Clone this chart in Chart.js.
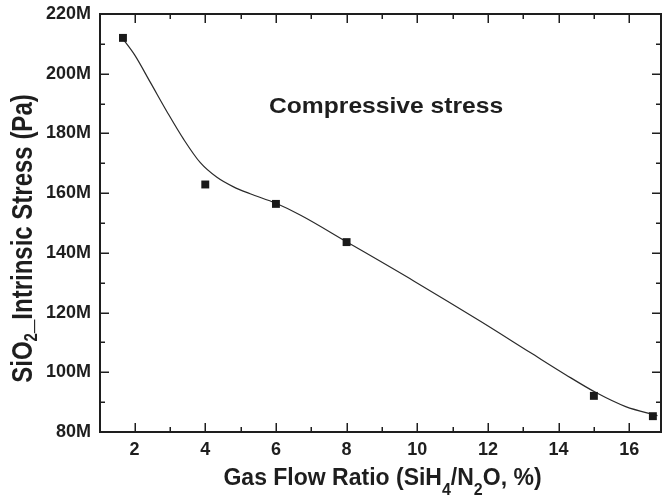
<!DOCTYPE html>
<html>
<head>
<meta charset="utf-8">
<title>SiO2 intrinsic stress vs gas flow ratio</title>
<script src="https://cdn.jsdelivr.net/npm/chart.js@4/dist/chart.umd.min.js"></script>
<style>
  html, body { margin: 0; padding: 0; background: #fff; }
  #wrap { width: 662px; height: 497px; }
</style>
</head>
<body>
<div id="wrap"><canvas id="stressChart" width="662" height="497"></canvas></div>
<script>
// Measured points: gas flow ratio (%) and intrinsic stress (MPa)
const flowRatio = [1.67, 4.0, 6.0, 8.0, 15.0, 16.67]
const stress = [212.0, 162.9, 156.4, 143.6, 92.1, 85.3]

// Smoothed trend curve, sampled along the fitted line
const fitRatio = [1.68, 2.0, 2.45, 2.92, 3.39, 3.86, 4.33, 4.8, 5.27, 6.0, 6.7, 8.0, 9.9, 11.8, 13.2, 14.2, 15.06, 15.9, 16.8]
const fitStress = [211.5, 206.3, 197.0, 187.2, 178.0, 170.2, 165.3, 162.1, 159.8, 156.6, 152.6, 143.7, 130.6, 117.0, 106.6, 99.2, 93.2, 88.5, 85.5]

// Axis ticks
const xMajor = [2, 4, 6, 8, 10, 12, 14, 16]
const xMinor = [3, 5, 7, 9, 11, 13, 15]
const yMajor = [80, 100, 120, 140, 160, 180, 200, 220]
const yMinor = [90, 110, 130, 150, 170, 190, 210]

const INK = '#1e1e1e'
const FONT = '"Liberation Sans", Arial, Helvetica, sans-serif'

// Draw a run of text pieces, some of them subscripts, starting at (0, 0)
function drawRich(ctx, parts, size, subSize, subShift) {
  let x = 0
  parts.forEach(p => {
    ctx.font = 'bold ' + (p.sub ? subSize : size) + 'px ' + FONT
    ctx.fillText(p.t, x, p.sub ? subShift : 0)
    x += ctx.measureText(p.t).width
  })
  return x
}

function richWidth(ctx, parts, size, subSize) {
  let w = 0
  parts.forEach(p => {
    ctx.font = 'bold ' + (p.sub ? subSize : size) + 'px ' + FONT
    w += ctx.measureText(p.t).width
  })
  return w
}

// Frame, inward tick marks on all four sides, axis titles and note
const framePlugin = {
  id: 'frame',
  afterDraw(chart) {
    const { ctx, chartArea: a, scales } = chart
    const sx = scales.x
    const sy = scales.y
    ctx.save()
    ctx.strokeStyle = INK
    ctx.lineWidth = 2
    ctx.strokeRect(a.left, a.top, a.right - a.left, a.bottom - a.top)

    ctx.lineWidth = 1.5
    ctx.beginPath()
    const xTick = (v, len) => {
      const px = Math.round(sx.getPixelForValue(v)) + 0.25
      ctx.moveTo(px, a.bottom); ctx.lineTo(px, a.bottom - len)
      ctx.moveTo(px, a.top); ctx.lineTo(px, a.top + len)
    }
    const yTick = (v, len) => {
      const py = Math.round(sy.getPixelForValue(v)) + 0.25
      ctx.moveTo(a.left, py); ctx.lineTo(a.left + len, py)
      ctx.moveTo(a.right, py); ctx.lineTo(a.right - len, py)
    }
    xMajor.forEach(v => xTick(v, 9))
    xMinor.forEach(v => xTick(v, 5))
    yMajor.forEach(v => yTick(v, 9))
    yMinor.forEach(v => yTick(v, 5))
    ctx.stroke()

    ctx.fillStyle = INK
    ctx.textBaseline = 'alphabetic'
    ctx.textAlign = 'left'

    // x axis title
    const xParts = [
      { t: 'Gas Flow Ratio (SiH' }, { t: '4', sub: true },
      { t: '/N' }, { t: '2', sub: true }, { t: 'O, %)' }
    ]
    const xw = richWidth(ctx, xParts, 23, 16)
    ctx.save()
    ctx.translate((a.left + a.right) / 2 + 2 - xw / 2, 484.5)
    drawRich(ctx, xParts, 23, 16, 10)
    ctx.restore()

    // y axis title, rotated and stretched across the glyph height
    const yParts = [
      { t: 'SiO' }, { t: '2', sub: true }, { t: '_Intrinsic Stress (Pa)' }
    ]
    const yw = richWidth(ctx, yParts, 24, 15)
    ctx.save()
    ctx.translate(32, 238.5 + yw / 2)
    ctx.rotate(-Math.PI / 2)
    ctx.scale(1, 1.22)
    drawRich(ctx, yParts, 24, 15, 4.5)
    ctx.restore()

    // note inside the plot
    ctx.save()
    ctx.translate(269, 112.5)
    ctx.scale(1.12, 1)
    ctx.font = 'bold 22px ' + FONT
    ctx.fillText('Compressive stress', 0, 0)
    ctx.restore()

    ctx.restore()
  }
}

const measured = flowRatio.map((x, i) => ({ x, y: stress[i] }))
const fitted = fitRatio.map((x, i) => ({ x, y: fitStress[i] }))

new Chart(document.getElementById('stressChart'), {
  type: 'scatter',
  data: {
    datasets: [{
      label: 'Fit',
      data: fitted,
      showLine: true,
      borderColor: '#2a2a2a',
      borderWidth: 1.2,
      cubicInterpolationMode: 'monotone',
      pointRadius: 0,
      order: 2
    }, {
      label: 'Stress',
      data: measured,
      pointStyle: 'rect',
      pointRadius: 5.6,
      pointBorderWidth: 0,
      backgroundColor: '#1a1a1a',
      borderColor: '#1a1a1a',
      order: 1
    }]
  },
  plugins: [framePlugin],
  options: {
    responsive: false,
    animation: false,
    events: [],
    layout: { autoPadding: false, padding: { left: 0, top: 14, right: 1, bottom: 0 } },
    plugins: {
      legend: { display: false },
      tooltip: { enabled: false }
    },
    scales: {
      x: {
        type: 'linear',
        min: 1.02,
        max: 16.9,
        afterBuildTicks: s => { s.ticks = xMajor.map(value => ({ value })) },
        afterFit: s => { s.height = 65; s.paddingLeft = 0; s.paddingRight = 0 },
        grid: { display: false, drawTicks: false },
        border: { display: false },
        ticks: {
          color: INK,
          padding: 7,
          maxRotation: 0,
          font: { family: FONT, size: 18, weight: 'bold' }
        }
      },
      y: {
        type: 'linear',
        min: 80,
        max: 220,
        afterBuildTicks: s => { s.ticks = yMajor.map(value => ({ value })) },
        afterFit: s => { s.width = 100; s.paddingTop = 0; s.paddingBottom = 0 },
        grid: { display: false, drawTicks: false },
        border: { display: false },
        ticks: {
          color: INK,
          padding: 9,
          font: { family: FONT, size: 18, weight: 'bold' },
          callback: v => v + 'M'
        }
      }
    }
  }
})
</script>
</body>
</html>
